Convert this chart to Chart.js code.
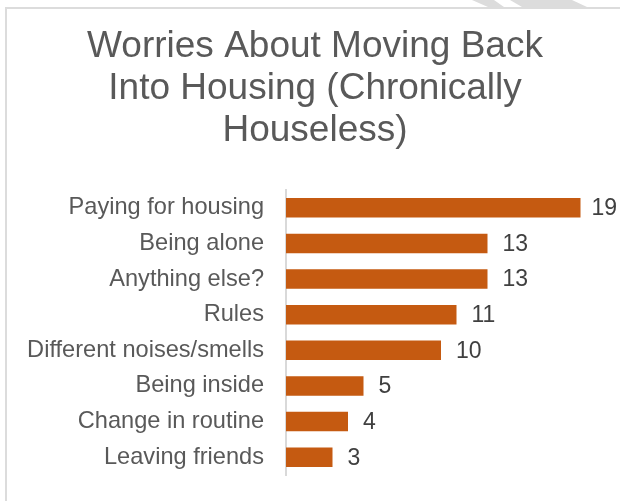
<!DOCTYPE html>
<html>
<head>
<meta charset="utf-8">
<script src="https://cdn.jsdelivr.net/npm/chart.js@4.4.1/dist/chart.umd.min.js"></script>
<style>
  html, body { margin: 0; padding: 0; background: #fff; }
  .wrap { position: relative; width: 620px; height: 501px; overflow: hidden; }
  .frame { position: absolute; left: 5px; top: 7px; right: -4px; bottom: -4px;
           border-top: 2px solid #dcdcdc; border-left: 2px solid #dcdcdc; }
  .deco { position: absolute; left: 0; top: 0; }
  canvas { position: absolute; left: 0; top: 0; }
</style>
</head>
<body>
<div class="wrap">
  <svg class="deco" width="620" height="8">
    <polygon points="472,0 494,0 504,7 488,7" fill="#dcdcdc"/>
    <polygon points="510,0 572,0 587,7 522,7" fill="#dcdcdc"/>
  </svg>
  <div class="frame"></div>
  <canvas id="myChart" width="620" height="501"></canvas>
</div>
<script>
const titleLines = ["Worries About Moving Back", "Into Housing (Chronically", "Houseless)"];
const categories = [
  "Paying for housing",
  "Being alone",
  "Anything else?",
  "Rules",
  "Different noises/smells",
  "Being inside",
  "Change in routine",
  "Leaving friends",
];
const counts = [19, 13, 13, 11, 10, 5, 4, 3];

const FONT = "'Liberation Sans', Arial, sans-serif";

// three-line title, centred a little right of the canvas middle
const titleBlock = {
  id: "titleBlock",
  afterDraw(chart) {
    const ctx = chart.ctx;
    ctx.save();
    ctx.font = "37px " + FONT;
    ctx.fillStyle = "#595959";
    ctx.textAlign = "center";
    ctx.textBaseline = "alphabetic";
    titleLines.forEach((line, i) => {
      ctx.fillText(line, 315, 57 + i * 42);
    });
    ctx.restore();
  },
};

// writes each bar's value just past its end
const valueLabels = {
  id: "valueLabels",
  afterDatasetsDraw(chart) {
    const ctx = chart.ctx;
    const meta = chart.getDatasetMeta(0);
    ctx.save();
    ctx.font = "23px " + FONT;
    ctx.fillStyle = "#404040";
    ctx.textAlign = "left";
    ctx.textBaseline = "middle";
    meta.data.forEach((bar, i) => {
      const txt = String(counts[i]);
      const x = Math.min(bar.x + 15, chart.width - 3 - ctx.measureText(txt).width);
      ctx.fillText(txt, x, bar.y + 1);
    });
    ctx.restore();
  },
};

const config = {
  type: "bar",
  data: {
    labels: categories,
    datasets: [
      {
        data: counts,
        backgroundColor: "#C55A11",
        borderWidth: 0,
        barPercentage: 0.55,
        categoryPercentage: 1,
      },
    ],
  },
  options: {
    indexAxis: "y",
    responsive: false,
    animation: false,
    layout: { padding: { left: 0, right: 24, top: 190, bottom: 26 } },
    plugins: {
      legend: { display: false },
      tooltip: { enabled: false },
      title: { display: false },
    },
    scales: {
      x: {
        display: false,
        min: 0,
        max: 20,
      },
      y: {
        afterFit(scale) {
          scale.width = 286;
          scale.paddingTop = 0;
          scale.paddingBottom = 0;
        },
        grid: { display: false, drawTicks: false },
        border: { display: true, color: "#d9d9d9", width: 2 },
        ticks: {
          color: "#595959",
          padding: 22,
          font: { family: FONT, size: 23.6 },
        },
      },
    },
  },
  plugins: [valueLabels, titleBlock],
};

const myChart = new Chart(document.getElementById("myChart"), config);
</script>
</body>
</html>
